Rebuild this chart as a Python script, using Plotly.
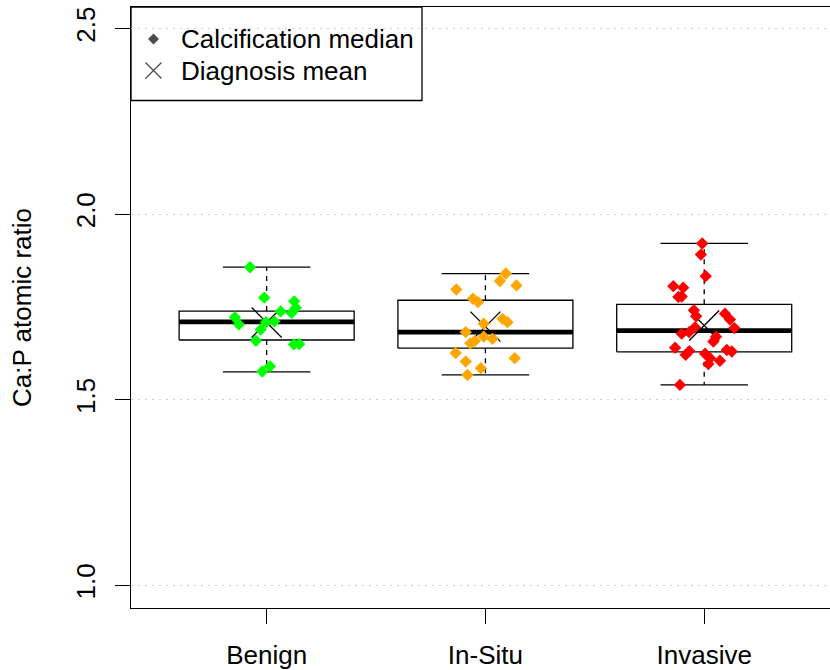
import plotly.graph_objects as go

# ---------------- data ----------------
categories = ["Benign", "In-Situ", "Invasive"]
category_pos = [1, 2, 3]
point_colors = ["#00FF00", "#FFA500", "#FF0000"]

benign_values = [1.857, 1.775, 1.765, 1.748, 1.734, 1.738, 1.722, 1.703, 1.709,
                 1.711, 1.689, 1.659, 1.649, 1.650, 1.590, 1.576]
benign_jitter = [-0.076, -0.011, 0.126, 0.133, 0.114, 0.064, -0.145, -0.127, -0.003,
                 0.035, -0.027, -0.049, 0.125, 0.149, 0.015, -0.020]

insitu_values = [1.840, 1.820, 1.808, 1.797, 1.772, 1.763, 1.718, 1.709, 1.705, 1.682,
                 1.670, 1.664, 1.658, 1.652, 1.626, 1.612, 1.603, 1.585, 1.567]
insitu_jitter = [0.093, 0.066, 0.142, -0.133, -0.057, -0.034, 0.078, 0.101, -0.008, -0.090,
                 -0.008, 0.032, -0.049, -0.069, -0.136, 0.134, -0.090, -0.021, -0.082]

invasive_values = [1.921, 1.891, 1.833, 1.806, 1.802, 1.777, 1.778, 1.741, 1.725, 1.732,
                   1.716, 1.693, 1.695, 1.682, 1.678, 1.670, 1.657, 1.640, 1.631, 1.621,
                   1.634, 1.630, 1.624, 1.612, 1.605, 1.596, 1.540]
invasive_jitter = [-0.009, -0.015, 0.007, -0.141, -0.096, -0.118, -0.103, -0.047, -0.037, 0.095,
                   0.118, 0.138, -0.042, -0.069, -0.103, 0.054, 0.042, -0.133, -0.068, -0.085,
                   0.103, 0.126, 0.004, 0.027, 0.072, 0.019, -0.111]

box_q1 = [1.661, 1.639, 1.629]
box_median = [1.710, 1.682, 1.686]
box_q3 = [1.739, 1.768, 1.757]
whisker_low = [1.575, 1.567, 1.540]
whisker_high = [1.857, 1.840, 1.921]
diagnosis_mean = [1.708, 1.697, 1.700]

y_ticks = [1.0, 1.5, 2.0, 2.5]
y_tick_labels = ["1.0", "1.5", "2.0", "2.5"]

legend_labels = ["Calcification median", "Diagnosis mean"]
legend_symbols = ["diamond", "x-thin-open"]

all_values = [benign_values, insitu_values, invasive_values]
all_jitter = [benign_jitter, insitu_jitter, invasive_jitter]

# ---------------- styling constants ----------------
BOX_HALF = 0.4
CAP_HALF = 0.2
FONT = "Liberation Sans, Arial, Helvetica, sans-serif"
FS = 26
W, H = 830, 670
ML, MR, MT, MB = 131, 0, 7, 62
PW, PH = W - ML - MR, H - MT - MB

# legend geometry (pixels from plot-area top-left)
LEG_W, LEG_H = 291, 93.5
LEG_SYM_X, LEG_TEXT_X = 22.5, 47.5
LEG_ROW_Y = [32, 63.5]


def px_to_paper_x(px):
    return px / PW


def px_to_paper_y(py):
    return 1 - py / PH


fig = go.Figure()

for i, c in enumerate(category_pos):
    fig.add_trace(go.Scatter(
        x=[c, c, None, c, c],
        y=[box_q3[i], whisker_high[i], None, box_q1[i], whisker_low[i]],
        mode="lines", line=dict(color="black", width=1.3, dash="5px,5px"),
        showlegend=False, hoverinfo="skip"))
    fig.add_trace(go.Scatter(
        x=[c - CAP_HALF, c + CAP_HALF, None, c - CAP_HALF, c + CAP_HALF],
        y=[whisker_high[i], whisker_high[i], None, whisker_low[i], whisker_low[i]],
        mode="lines", line=dict(color="black", width=1.3),
        showlegend=False, hoverinfo="skip"))
    fig.add_trace(go.Scatter(
        x=[c - BOX_HALF, c + BOX_HALF, c + BOX_HALF, c - BOX_HALF, c - BOX_HALF],
        y=[box_q1[i], box_q1[i], box_q3[i], box_q3[i], box_q1[i]],
        mode="lines", fill="toself", fillcolor="white",
        line=dict(color="black", width=1.3),
        showlegend=False, hoverinfo="skip"))
    fig.add_trace(go.Scatter(
        x=[c - BOX_HALF, c + BOX_HALF],
        y=[box_median[i], box_median[i]],
        mode="lines", line=dict(color="black", width=4.7),
        showlegend=False, hoverinfo="skip"))

fig.add_trace(go.Scatter(
    x=category_pos, y=diagnosis_mean, mode="markers", name="Diagnosis mean",
    marker=dict(symbol="x-thin-open", size=30, color="black",
                line=dict(color="black", width=1.3)),
    showlegend=False))

for i, c in enumerate(category_pos):
    fig.add_trace(go.Scatter(
        x=[c + j for j in all_jitter[i]], y=all_values[i], mode="markers",
        name=categories[i],
        marker=dict(symbol="diamond", size=9.5, color=point_colors[i]),
        showlegend=False))

# ---- legend (boxed key in the top-left corner) ----
fig.add_shape(type="rect", xref="paper", yref="paper",
              x0=0, x1=px_to_paper_x(LEG_W), y0=px_to_paper_y(LEG_H), y1=1,
              line=dict(color="black", width=1.3), fillcolor="white", layer="between")
fig.add_trace(go.Scatter(
    x=[px_to_paper_x(LEG_SYM_X)] * 2, y=[px_to_paper_y(r) for r in LEG_ROW_Y],
    xaxis="x2", yaxis="y2", mode="markers",
    marker=dict(symbol=legend_symbols, size=[7, 16], color="black",
                line=dict(color="black", width=1.3)),
    showlegend=False, hoverinfo="skip"))
for lab, r in zip(legend_labels, LEG_ROW_Y):
    fig.add_annotation(text=lab, xref="paper", yref="paper",
                       x=px_to_paper_x(LEG_TEXT_X), y=px_to_paper_y(r),
                       xanchor="left", yanchor="middle", showarrow=False,
                       font=dict(family=FONT, size=FS, color="black"))

fig.update_layout(
    width=W, height=H,
    margin=dict(l=ML, r=MR, t=MT, b=MB),
    paper_bgcolor="white", plot_bgcolor="white",
    font=dict(family=FONT, size=FS, color="black"),
    showlegend=False,
    xaxis=dict(range=[0.38, 3.575], tickmode="array", tickvals=category_pos,
               ticktext=categories, ticks="outside", ticklen=15, tickwidth=1.3,
               tickcolor="black", showline=True, linecolor="black", linewidth=1.3,
               mirror=True, showgrid=False, zeroline=False, automargin=False,
               ticklabelstandoff=9),
    yaxis=dict(range=[0.939, 2.558], tickmode="array", tickvals=y_ticks,
               ticktext=y_tick_labels, tickangle=-90, ticks="outside", ticklen=15,
               tickwidth=1.3, tickcolor="black", showline=True, linecolor="black",
               linewidth=1.3, mirror=False, showgrid=True, gridcolor="#CFCFCF",
               griddash="2px,5px", gridwidth=1.2, zeroline=False, automargin=False,
               ticklabelstandoff=9,
               title=dict(text="Ca:P atomic ratio", standoff=32,
                          font=dict(family=FONT, size=FS))),
    xaxis2=dict(range=[0, 1], overlaying="x", visible=False, fixedrange=True),
    yaxis2=dict(range=[0, 1], overlaying="y", visible=False, fixedrange=True),
)

fig.write_html(
    "out.html",
    config={"displayModeBar": False},
    post_script="document.body.style.margin='0';document.body.style.padding='0';"
                "document.body.style.overflow='hidden';",
)
